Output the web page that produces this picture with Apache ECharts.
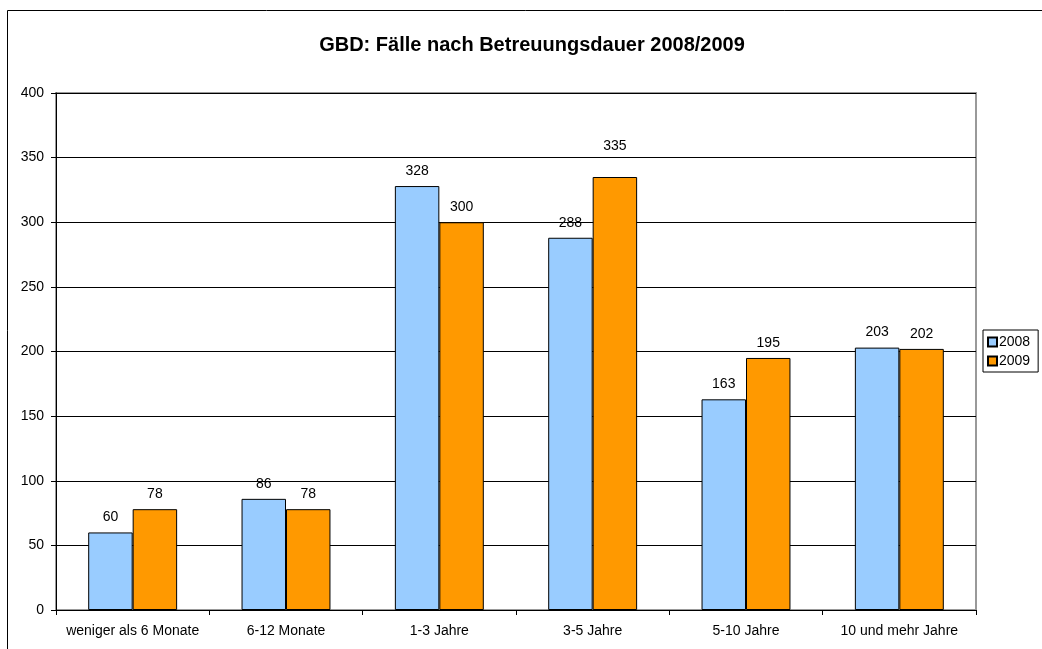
<!DOCTYPE html>
<html>
<head>
<meta charset="utf-8">
<script src="https://cdn.jsdelivr.net/npm/echarts@6/dist/echarts.min.js"></script>
<style>
  html, body { margin: 0; padding: 0; background: #fff; }
  #chart { width: 1042px; height: 649px; }
</style>
</head>
<body>
<div id="chart"></div>
<script>
const categories = ['weniger als 6 Monate', '6-12 Monate', '1-3 Jahre', '3-5 Jahre', '5-10 Jahre', '10 und mehr Jahre']
const values2008 = [60, 86, 328, 288, 163, 203]
const values2009 = [78, 78, 300, 335, 195, 202]
const yTicks = { min: 0, max: 400, interval: 50 }

const chart = echarts.init(document.getElementById('chart'))

const labelStyle = {
  show: true,
  position: 'top',
  distance: 8,
  color: '#000',
  fontFamily: 'Liberation Sans, Arial, sans-serif',
  fontSize: 14
}

// excel pushed the 335 label above the 350 gridline
const data2009 = values2009.map((v, i) => i === 3 ? { value: v, label: { distance: 24 } } : v)

chart.setOption({
  animation: false,
  textStyle: { fontFamily: 'Liberation Sans, Arial, sans-serif' },
  title: {
    text: 'GBD: Fälle nach Betreuungsdauer 2008/2009',
    left: 527,
    top: 30,
    textAlign: 'center',
    textStyle: { fontSize: 20, fontWeight: 'bold', color: '#000' }
  },
  graphic: [{
    type: 'rect',
    shape: { x: 7.5, y: 10.5, width: 1100, height: 700 },
    style: { fill: 'none', stroke: '#000', lineWidth: 1 },
    silent: true
  }],
  legend: {
    orient: 'vertical',
    left: 983,
    top: 330,
    padding: [5, 8, 4, 4],
    itemGap: 5,
    itemWidth: 9,
    itemHeight: 9,
    icon: 'rect',
    borderColor: '#000',
    borderWidth: 1,
    textStyle: { fontSize: 14, color: '#000', padding: [0, 0, 0, -3] },
    data: ['2008', '2009']
  },
  grid: {
    left: 56,
    top: 93,
    right: 1042 - 976,
    bottom: 649 - 610,
    show: true,
    borderColor: '#999',
    borderWidth: 2,
    backgroundColor: '#fff'
  },
  xAxis: {
    type: 'category',
    data: categories,
    axisLine: { lineStyle: { color: '#000', width: 1 } },
    axisTick: { show: true, interval: 0, alignWithLabel: false, length: 5, lineStyle: { color: '#000' } },
    axisLabel: { color: '#000', fontSize: 14, margin: 14, interval: 0 }
  },
  yAxis: {
    type: 'value',
    min: yTicks.min,
    max: yTicks.max,
    interval: yTicks.interval,
    axisLine: { show: true, lineStyle: { color: '#000', width: 1 } },
    axisTick: { show: true, length: 5, lineStyle: { color: '#000' } },
    axisLabel: { color: '#000', fontSize: 14, margin: 12 },
    splitLine: { lineStyle: { color: '#000', width: 1 } }
  },
  series: [
    {
      name: '2008',
      type: 'bar',
      data: values2008,
      barGap: '0%',
      barCategoryGap: '42%',
      itemStyle: { color: '#99ccff', borderColor: '#000', borderWidth: 1 },
      label: labelStyle
    },
    {
      name: '2009',
      type: 'bar',
      data: data2009,
      itemStyle: { color: '#ff9900', borderColor: '#000', borderWidth: 1 },
      label: labelStyle
    }
  ]
})
</script>
</body>
</html>
